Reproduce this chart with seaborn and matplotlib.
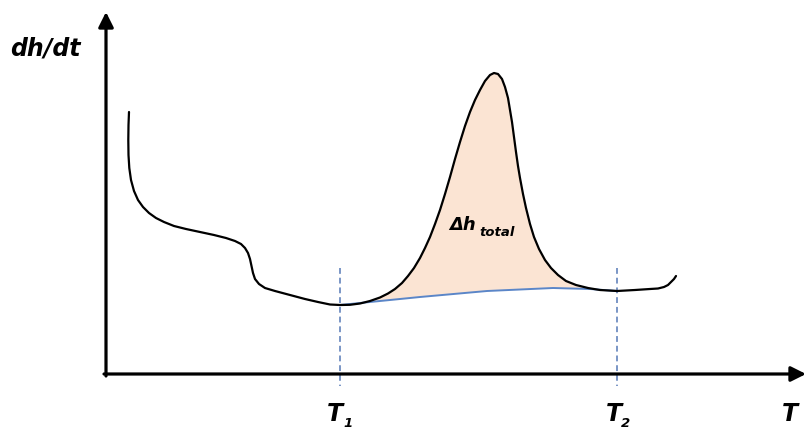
import numpy as np
import pandas as pd
import matplotlib
matplotlib.use("Agg")
import matplotlib.pyplot as plt
import seaborn as sns

# Curve (pixel-like units: x to the right, y downward)
curve_x = [129, 128.5, 128.3, 128.5, 129.3, 131, 134, 138, 143, 149, 156, 164, 174, 186, 200,
           214, 226, 235, 241, 245, 248, 250, 251.5, 253, 255, 259, 265, 275, 290, 305, 318,
           330, 340, 350, 360, 370, 380, 388, 395, 402, 408, 414, 420, 425, 430, 435, 440,
           445, 450, 455, 460, 465, 470, 475, 480, 485, 490, 494, 498, 502, 505, 508, 510,
           512, 514, 516, 518, 520, 523, 526, 530, 534, 539, 545, 551, 558, 566, 576, 588,
           600, 617, 635, 650, 658, 664, 668, 671, 674, 676]
curve_y = [112, 125, 140, 155, 168, 180, 191, 200, 207, 213, 218, 222, 226, 229, 232,
           235, 238, 241, 244, 248, 253, 259, 266, 273, 279, 284, 288, 291, 295, 299, 302,
           304.5, 305, 304.8, 303.5, 301, 297.5, 293.5, 289, 283, 276, 268, 258, 248, 237, 224, 210,
           194, 177, 159, 142, 126, 112, 100, 90, 81, 75, 73, 74, 79, 87, 98, 110,
           122, 137, 152, 166, 178, 194, 208, 224, 237, 249, 260, 268, 275, 281, 285, 288,
           290, 291, 290, 289, 288.5, 287, 285, 282, 279, 276]

# Baseline under the peak
base_x = [340, 370, 420, 487, 553, 590, 617]
base_y = [305, 302, 297, 291, 288, 289, 291]

T1_x = 340
T2_x = 617

sns.set_style("white")
plt.rcParams['font.family'] = ['DejaVu Sans']

fig = plt.figure(figsize=(8.06, 4.29), dpi=100)
ax = fig.add_axes([0, 0, 1, 1])

# Fill between peak and baseline
cx = np.array(curve_x); cy = np.array(curve_y)
mask = (cx >= T1_x) & (cx <= T2_x)
poly_x = np.concatenate([cx[mask], np.array(base_x)[::-1]])
poly_y = np.concatenate([cy[mask], np.array(base_y)[::-1]])
ax.fill(poly_x, poly_y, color="#FBE4D3", lw=0, zorder=1)

df_curve = pd.DataFrame({"x": curve_x, "y": curve_y})
df_base = pd.DataFrame({"x": base_x, "y": base_y})
sns.lineplot(data=df_base, x="x", y="y", sort=False, estimator=None, color="#5B86C8",
             lw=1.4, ax=ax, zorder=2)
sns.lineplot(data=df_curve, x="x", y="y", sort=False, estimator=None, color="black",
             lw=1.6, ax=ax, zorder=3)
ax.set_xlim(0, 806)
ax.set_ylim(429, 0)
ax.axis("off")

# Dashed markers
for xv in (T1_x, T2_x):
    ax.plot([xv, xv], [268, 386], color="#7A96C6", lw=1.4, ls=(0, (3, 2)), zorder=2)

# Axes arrows
arrow = dict(arrowstyle="-|>,head_length=0.9,head_width=0.45", color="black", lw=2.3,
             shrinkA=0, shrinkB=0)
ax.annotate("", xy=(106, 12), xytext=(106, 376), arrowprops=arrow, zorder=4)
ax.annotate("", xy=(806, 374), xytext=(104, 374), arrowprops=arrow, zorder=4)

# Labels
tkw = dict(fontweight="bold", fontstyle="italic", color="black")
ax.text(10, 56, "dh/dt", fontsize=17, ha="left", va="baseline", **tkw)
ax.text(327, 421, "T", fontsize=17, ha="left", va="baseline", **tkw)
ax.text(343, 427, "1", fontsize=9.5, ha="left", va="baseline", **tkw)
ax.text(606, 421, "T", fontsize=17, ha="left", va="baseline", **tkw)
ax.text(621, 427, "2", fontsize=9.5, ha="left", va="baseline", **tkw)
ax.text(782, 421, "T", fontsize=17, ha="left", va="baseline", **tkw)
ax.text(449, 230, "Δh", fontsize=13, ha="left", va="baseline", **tkw)
ax.text(479, 236, "total", fontsize=9.5, ha="left", va="baseline", **tkw)

fig.savefig("out.png", dpi=100)
